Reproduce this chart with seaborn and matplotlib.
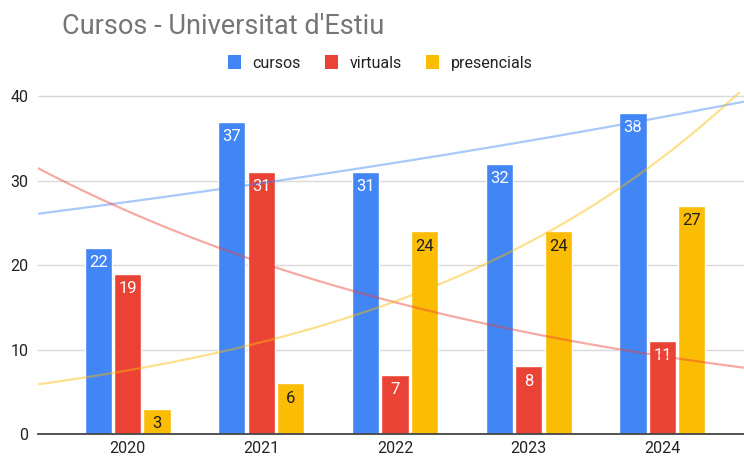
import numpy as np
import pandas as pd
import matplotlib
matplotlib.use("Agg")
import matplotlib.pyplot as plt
from matplotlib.patches import Patch
import seaborn as sns

years = ["2020", "2021", "2022", "2023", "2024"]
cursos = [22, 37, 31, 32, 38]
virtuals = [19, 31, 7, 8, 11]
presencials = [3, 6, 24, 24, 27]
series_names = ["cursos", "virtuals", "presencials"]
colors = ["#4285F4", "#EA4335", "#FBBC04"]
label_colors = ["white", "white", "#212121"]
yticks = [0, 10, 20, 30, 40]

df = pd.DataFrame({
    "any": years * 3,
    "serie": [s for s in series_names for _ in years],
    "valor": cursos + virtuals + presencials,
})

sns.set_theme(style="white")
plt.rcParams["font.family"] = ["Roboto", "DejaVu Sans"]

fig = plt.figure(figsize=(7.44, 4.59), dpi=100)
ax = fig.add_axes([38 / 744, 1 - 434 / 459, 1 - 38 / 744, (434 - 92) / 459])

sns.barplot(data=df, x="any", y="valor", hue="serie", order=years,
            hue_order=series_names, palette=colors, width=0.66, gap=0.08,
            saturation=1, legend=False, ax=ax)

for cont, lc in zip(ax.containers, label_colors):
    ax.bar_label(cont, padding=-16, color=lc, fontsize=12)


def exp_fit(y):
    """Exponential trend y = a * exp(b * x) over x = 0..n-1,
    fitted on log(y) with each point weighted by its value."""
    x = np.arange(len(y), dtype=float)
    y = np.asarray(y, dtype=float)
    b, loga = np.polyfit(x, np.log(y), 1, w=np.sqrt(y))
    return np.exp(loga), b


xmin, xmax = -0.67, 4.61
xs = np.linspace(xmin, xmax, 300)
for vals, c in zip([cursos, virtuals, presencials], colors):
    a, b = exp_fit(vals)
    ax.plot(xs, a * np.exp(b * xs), color=c, alpha=0.45, lw=1.6, zorder=3)

ax.set_xlim(xmin, xmax)
ax.set_ylim(0, 40.5)
ax.set_yticks(yticks)
ax.set_yticklabels([str(t) for t in yticks])
ax.grid(axis="y", color="#d9d9d9", lw=1)
ax.set_axisbelow(True)
for s in ["top", "right", "left"]:
    ax.spines[s].set_visible(False)
ax.spines["bottom"].set_color("#444444")
ax.spines["bottom"].set_linewidth(1.3)
ax.tick_params(axis="both", length=0, labelsize=11.5, labelcolor="#222222")
ax.tick_params(axis="y", pad=7)
ax.tick_params(axis="x", pad=5)
ax.set_xlabel("")
ax.set_ylabel("")

fig.text(62 / 744, 1 - 26 / 459, "Cursos - Universitat d'Estiu", fontsize=19.5,
         color="#757575", va="center", ha="left")

handles = [Patch(facecolor=c, edgecolor="none") for c in colors]
fig.legend(handles, series_names, loc="center", bbox_to_anchor=(380 / 744, 1 - 63 / 459),
           ncol=3, frameon=False, fontsize=11.5, handlelength=0.85, handleheight=0.95,
           handletextpad=0.7, columnspacing=1.5, labelcolor="#222222")

fig.savefig("out.png", dpi=100, facecolor="white")
